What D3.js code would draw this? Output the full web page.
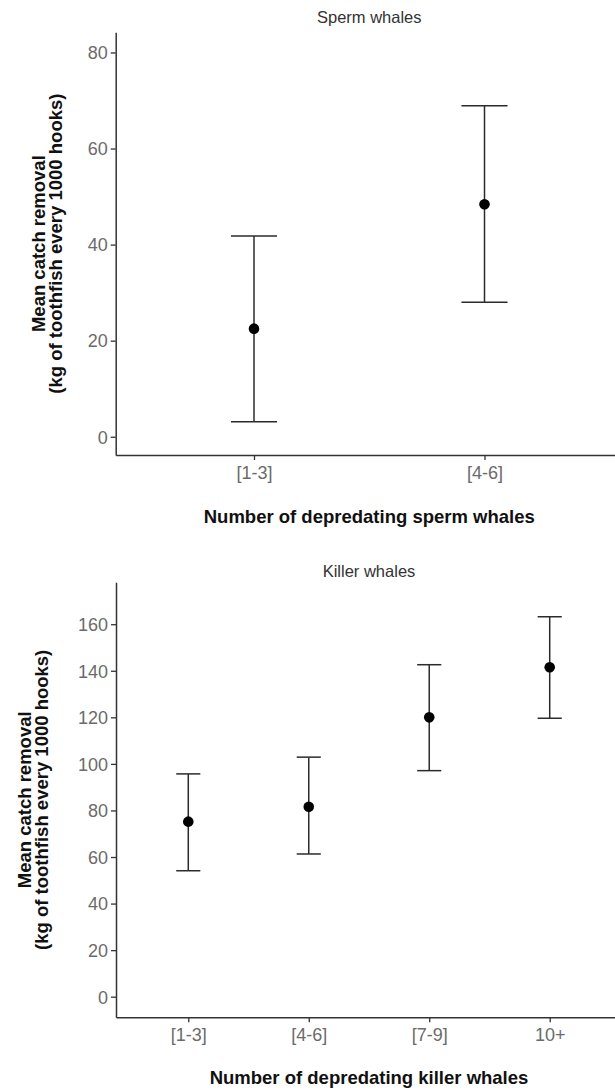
<!DOCTYPE html>
<html>
<head>
<meta charset="utf-8">
<script src="https://cdn.jsdelivr.net/npm/d3@7"></script>
<style>
  html, body { margin: 0; padding: 0; background: #fff; }
  svg { display: block; }
  .tick text { font-family: "Liberation Sans", Arial, sans-serif; font-size: 18px; fill: #6b6b6b; }
  .tick line { stroke: #333; stroke-width: 1.3px; }
  .domain { stroke: #333; stroke-width: 1.5px; }
</style>
</head>
<body>
<script>
// ---- data ----
const spermCats = ["[1-3]", "[4-6]"];
const spermMean = [22.5, 48.4];
const spermLower = [3.1, 28.0];
const spermUpper = [41.8, 68.9];
const spermTicks = [0, 20, 40, 60, 80];

const killerCats = ["[1-3]", "[4-6]", "[7-9]", "10+"];
const killerMean = [75.2, 81.6, 120.0, 141.5];
const killerLower = [54.1, 61.3, 97.1, 119.6];
const killerUpper = [95.7, 102.9, 142.6, 163.2];
const killerTicks = [0, 20, 40, 60, 80, 100, 120, 140, 160];

const W = 615, H = 1090;
const svg = d3.select("body").append("svg").attr("width", W).attr("height", H);

function panel(opt) {
  const x = d3.scalePoint().domain(opt.cats).range([opt.x0, opt.x1]).padding(0.6);
  const y = d3.scaleLinear().domain(opt.yDomain).range([opt.yBottom, opt.yTop]);
  const g = svg.append("g");

  // axes
  g.append("g").attr("transform", `translate(${opt.x0},0)`)
    .call(d3.axisLeft(y).tickValues(opt.ticks).tickSize(5).tickSizeOuter(0).tickPadding(3).tickFormat(d3.format("d")));
  g.append("g").attr("transform", `translate(0,${opt.yBottom})`)
    .call(d3.axisBottom(x).tickSize(5).tickSizeOuter(0).tickPadding(6));
  g.selectAll(".tick text").attr("dy", null);
  g.selectAll("g.tick text").each(function() {
    const t = d3.select(this);
    if (t.attr("y") && +t.attr("y") > 0) t.attr("dy", "0.71em");
    else t.attr("dy", "0.35em");
  });

  const data = opt.cats.map((c, i) => ({ c, m: opt.mean[i], lo: opt.lower[i], hi: opt.upper[i] }));
  const capW = x.step() * 0.2;
  const eb = g.append("g").attr("stroke", "#2b2b2b").attr("stroke-width", 1.5).attr("fill", "none");
  eb.selectAll("line.v").data(data).join("line")
    .attr("x1", d => x(d.c)).attr("x2", d => x(d.c))
    .attr("y1", d => y(d.lo)).attr("y2", d => y(d.hi));
  eb.selectAll("line.t").data(data).join("line")
    .attr("x1", d => x(d.c) - capW / 2).attr("x2", d => x(d.c) + capW / 2)
    .attr("y1", d => y(d.hi)).attr("y2", d => y(d.hi));
  eb.selectAll("line.b").data(data).join("line")
    .attr("x1", d => x(d.c) - capW / 2).attr("x2", d => x(d.c) + capW / 2)
    .attr("y1", d => y(d.lo)).attr("y2", d => y(d.lo));
  g.selectAll("circle").data(data).join("circle")
    .attr("cx", d => x(d.c)).attr("cy", d => y(d.m)).attr("r", 5.3).attr("fill", "#000");

  const cx = (opt.x0 + opt.x1) / 2;
  g.append("text").attr("x", cx).attr("y", opt.titleY).attr("text-anchor", "middle")
    .style("font-family", "'Liberation Sans', Arial, sans-serif").style("font-size", "16.5px").style("fill", "#333")
    .text(opt.title);
  g.append("text").attr("x", cx).attr("y", opt.xTitleY).attr("text-anchor", "middle")
    .style("font-family", "'Liberation Sans', Arial, sans-serif").style("font-size", "18.5px").style("font-weight", "bold").style("fill", "#111")
    .text(opt.xTitle);
  const cy = (opt.yTop + opt.yBottom) / 2;
  const yt = g.append("text").attr("transform", `translate(${opt.yTitleX},${cy}) rotate(-90)`)
    .attr("text-anchor", "middle")
    .style("font-family", "'Liberation Sans', Arial, sans-serif").style("font-size", "18.5px").style("font-weight", "bold").style("fill", "#111");
  yt.append("tspan").attr("x", 0).attr("y", 0).text("Mean catch removal");
  yt.append("tspan").attr("x", 0).attr("y", 17).text("(kg of toothfish every 1000 hooks)");
}

panel({
  cats: spermCats, mean: spermMean, lower: spermLower, upper: spermUpper, ticks: spermTicks,
  x0: 115.7, x1: 622.8, yTop: 32.3, yBottom: 455, yDomain: [-3.8, 84.2],
  title: "Sperm whales", titleY: 23,
  xTitle: "Number of depredating sperm whales", xTitleY: 523,
  yTitleX: 45
});

panel({
  cats: killerCats, mean: killerMean, lower: killerLower, upper: killerUpper, ticks: killerTicks,
  x0: 116, x1: 622, yTop: 582.3, yBottom: 1017.3, yDomain: [-8.85, 178],
  title: "Killer whales", titleY: 577,
  xTitle: "Number of depredating killer whales", xTitleY: 1084,
  yTitleX: 31
});
</script>
</body>
</html>
